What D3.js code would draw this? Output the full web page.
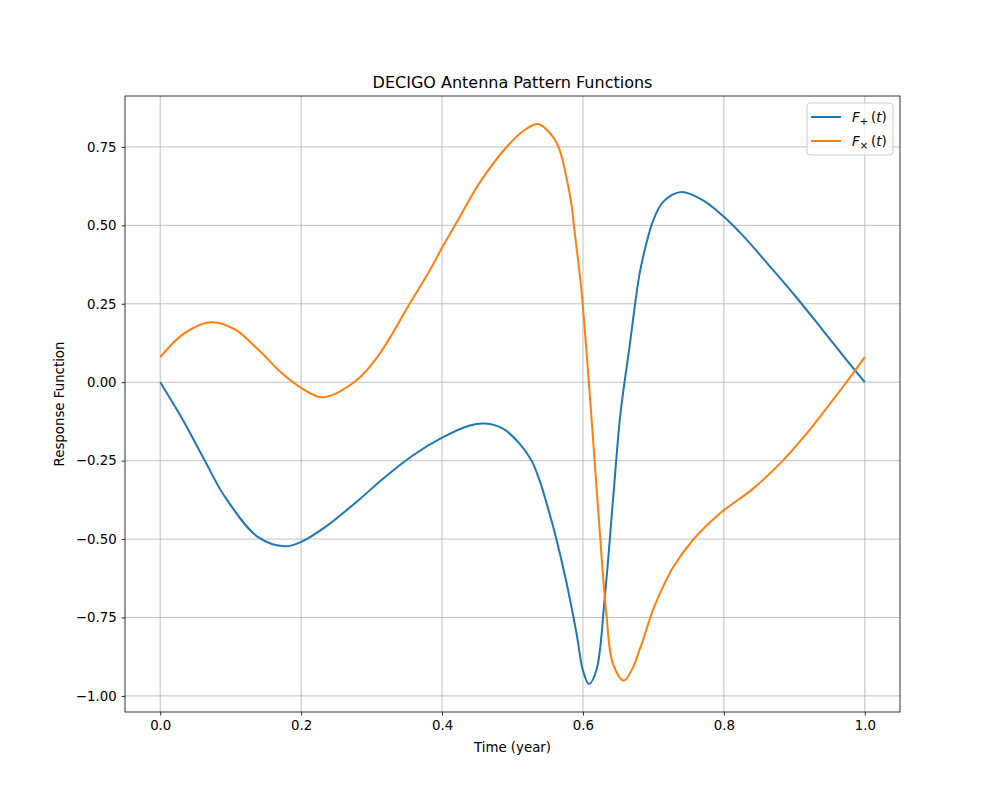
<!DOCTYPE html>
<html>
<head>
<meta charset="utf-8">
<script src="https://cdn.jsdelivr.net/npm/d3@7"></script>
<style>
  body { margin: 0; background: #fff; }
  svg text { font-family: "DejaVu Sans", sans-serif; }
</style>
</head>
<body>
<div class="chart"></div>
<script>
// time in years and the values
const tPlus = [0.000, 0.030, 0.063, 0.092, 0.139, 0.177, 0.200, 0.234, 0.281, 0.315, 0.359, 0.400, 0.4393, 0.4606, 0.4865, 0.510, 0.527, 0.5386, 0.550, 0.560, 0.576, 0.591, 0.600, 0.6085, 0.619, 0.631, 0.643, 0.653, 0.6662, 0.6804, 0.690, 0.699, 0.7135, 0.7396, 0.770, 0.800, 0.822, 0.832, 0.865, 0.903, 0.940, 0.974, 1.000];
const fPlus = [0.000, -0.112, -0.249, -0.366, -0.494, -0.523, -0.509, -0.462, -0.377, -0.310, -0.233, -0.177, -0.138, -0.132, -0.148, -0.196, -0.250, -0.314, -0.399, -0.480, -0.632, -0.802, -0.919, -0.962, -0.919, -0.685, -0.366, -0.105, 0.115, 0.346, 0.442, 0.511, 0.574, 0.606, 0.580, 0.527, 0.479, 0.455, 0.370, 0.270, 0.167, 0.071, 0.000];

const tCross = [0.000, 0.035, 0.072, 0.106, 0.139, 0.172, 0.200, 0.231, 0.2786, 0.3116, 0.354, 0.3826, 0.4006, 0.4204, 0.4535, 0.491, 0.515, 0.5362, 0.5574, 0.567, 0.5764, 0.5835, 0.588, 0.5977, 0.6048, 0.612, 0.6237, 0.6332, 0.6426, 0.658, 0.671, 0.680, 0.685, 0.699, 0.7135, 0.728, 0.756, 0.7939, 0.841, 0.8837, 0.917, 0.9546, 0.975, 1.000];
const fCross = [0.080, 0.157, 0.191, 0.168, 0.104, 0.030, -0.018, -0.048, 0.006, 0.091, 0.250, 0.357, 0.431, 0.508, 0.636, 0.748, 0.800, 0.823, 0.782, 0.740, 0.654, 0.569, 0.484, 0.296, 0.104, -0.109, -0.472, -0.738, -0.898, -0.951, -0.909, -0.855, -0.824, -0.728, -0.653, -0.590, -0.503, -0.419, -0.340, -0.250, -0.165, -0.057, 0.003, 0.080];

const xTicks = [0.0, 0.2, 0.4, 0.6, 0.8, 1.0];
const yTicks = [-1.00, -0.75, -0.50, -0.25, 0.00, 0.25, 0.50, 0.75];

const seriesNames = ["+", "×"];
const seriesColors = ["#1f77b4", "#ff7f0e"];

const series = [
    tPlus.map((t, i) => ({t: t, v: fPlus[i]})),
    tCross.map((t, i) => ({t: t, v: fCross[i]}))
];

const W = 1000, H = 800;
const margin = {top: 96, right: 100, bottom: 88, left: 125};
const width = W - margin.left - margin.right;
const height = H - margin.top - margin.bottom;

const svg = d3.select(".chart")
    .append("svg")
    .attr("width", W)
    .attr("height", H);

const g = svg.append("g")
    .attr("transform", `translate(${margin.left},${margin.top})`);

const allV = fPlus.concat(fCross);
const vMin = d3.min(allV), vMax = d3.max(allV);
const pad = (vMax - vMin) * 0.05;

const x = d3.scaleLinear().domain([-0.05, 1.05]).range([0, width]);
const y = d3.scaleLinear().domain([vMin - pad, vMax + pad]).range([height, 0]);

const minus = s => s.replace("-", "\u2212");

// grid
g.append("g")
    .selectAll("line")
    .data(xTicks)
    .enter()
    .append("line")
    .attr("x1", d => x(d)).attr("x2", d => x(d))
    .attr("y1", 0).attr("y2", height)
    .attr("stroke", "#b0b0b0")
    .attr("stroke-width", 0.8);

g.append("g")
    .selectAll("line")
    .data(yTicks)
    .enter()
    .append("line")
    .attr("x1", 0).attr("x2", width)
    .attr("y1", d => y(d)).attr("y2", d => y(d))
    .attr("stroke", "#b0b0b0")
    .attr("stroke-width", 0.8);

// axes
const xAxis = g.append("g")
    .attr("transform", `translate(0,${height})`)
    .call(d3.axisBottom(x).tickValues(xTicks).tickSize(3.5).tickPadding(4.9).tickFormat(d => minus(d3.format(".1f")(d))));

const yAxis = g.append("g")
    .call(d3.axisLeft(y).tickValues(yTicks).tickSize(3.5).tickPadding(4.9).tickFormat(d => minus(d3.format(".2f")(d))));

[xAxis, yAxis].forEach(a => {
    a.select(".domain").remove();
    a.selectAll("line").attr("stroke", "#000").attr("stroke-width", 0.8);
    a.selectAll("text")
        .attr("fill", "#000")
        .style("font-size", "13.33px")
        .style("font-family", "DejaVu Sans");
});

// lines
const line = d3.line()
    .x(d => x(d.t))
    .y(d => y(d.v))
    .curve(d3.curveCatmullRom.alpha(0.5));

g.selectAll(".series")
    .data(series)
    .enter()
    .append("path")
    .attr("class", "series")
    .attr("d", d => line(d))
    .attr("fill", "none")
    .attr("stroke", (d, i) => seriesColors[i])
    .attr("stroke-width", 2)
    .attr("stroke-linejoin", "round");

// frame
g.append("rect")
    .attr("x", 0).attr("y", 0)
    .attr("width", width).attr("height", height)
    .attr("fill", "none")
    .attr("stroke", "#000")
    .attr("stroke-width", 0.8);

// title and labels
svg.append("text")
    .attr("x", margin.left + width / 2)
    .attr("y", margin.top - 8)
    .attr("text-anchor", "middle")
    .style("font-size", "16px")
    .text("DECIGO Antenna Pattern Functions");

svg.append("text")
    .attr("x", margin.left + width / 2)
    .attr("y", H - 48)
    .attr("text-anchor", "middle")
    .style("font-size", "13.33px")
    .text("Time (year)");

svg.append("text")
    .attr("transform", `translate(64,${margin.top + height / 2}) rotate(-90)`)
    .attr("text-anchor", "middle")
    .style("font-size", "13.33px")
    .text("Response Function");

// legend
const legend = g.append("g")
    .attr("transform", `translate(${width - 93},7)`);

legend.append("rect")
    .attr("x", 0).attr("y", 0)
    .attr("width", 86).attr("height", 52)
    .attr("rx", 3)
    .attr("fill", "#fff")
    .attr("fill-opacity", 0.8)
    .attr("stroke", "#cccccc")
    .attr("stroke-width", 1);

seriesNames.forEach((name, i) => {
    const row = legend.append("g")
        .attr("transform", `translate(0,${14 + i * 24})`);
    row.append("line")
        .attr("x1", 4).attr("x2", 34)
        .attr("y1", 0).attr("y2", 0)
        .attr("stroke", seriesColors[i])
        .attr("stroke-width", 2);
    const t = row.append("text")
        .attr("x", 45)
        .attr("y", 5)
        .style("font-size", "13.33px");
    t.append("tspan").style("font-style", "italic").text("F");
    t.append("tspan").attr("dy", 3).style("font-size", "10px").text(name);
    t.append("tspan").attr("dy", -3).attr("dx", 3).text("(");
    t.append("tspan").style("font-style", "italic").text("t");
    t.append("tspan").text(")");
});
</script>
</body>
</html>
